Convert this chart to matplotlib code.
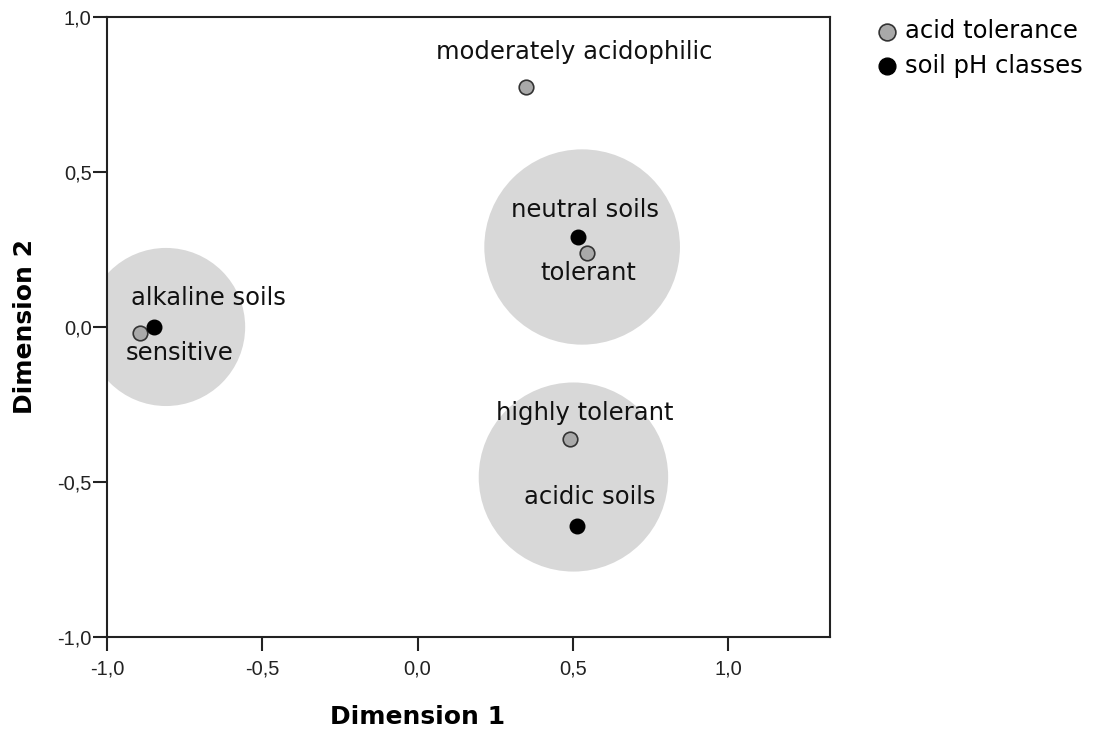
import matplotlib.pyplot as plt
from matplotlib.patches import Ellipse
from matplotlib.ticker import FuncFormatter
from matplotlib.transforms import blended_transform_factory

# acid tolerance categories (grey points)
tol_names = ["moderately acidophilic", "tolerant", "highly tolerant", "sensitive"]
tol_x = [0.35, 0.545, 0.49, -0.895]
tol_y = [0.775, 0.238, -0.36, -0.02]

# soil pH classes (black points)
ph_names = ["neutral soils", "alkaline soils", "acidic soils"]
ph_x = [0.518, -0.848, 0.515]
ph_y = [0.29, 0.0, -0.643]

# shaded groupings
grp_x = [-0.81, 0.53, 0.502]
grp_y = [0.0, 0.258, -0.484]
grp_r = [0.255, 0.315, 0.305]

# label offsets in pixels (dx right, dy up)
tol_off = [(48, 35), (2, -20), (15, 26), (40, -20)]
ph_off = [(7, 27), (54, 29), (12, 29)]

fig = plt.figure(figsize=(11.05, 7.32), dpi=100)
ax = fig.add_axes([0.0968, 0.1298, 0.6543, 0.847])

for cx, cy, r in zip(grp_x, grp_y, grp_r):
    ax.add_patch(Ellipse((cx, cy), 2 * r, 2 * r, facecolor="#d8d8d8",
                         edgecolor="none", zorder=1))

ax.scatter(tol_x, tol_y, s=110, c="#a9a9a9", edgecolors="#333333",
           linewidths=1.2, zorder=3, label="acid tolerance")
ax.scatter(ph_x, ph_y, s=110, c="black", edgecolors="black",
           linewidths=1.0, zorder=3, label="soil pH classes")

px = 0.72  # pixel -> point
for name, x, y, (dx, dy) in zip(tol_names, tol_x, tol_y, tol_off):
    ax.annotate(name, (x, y), xytext=(dx * px, dy * px), textcoords="offset points",
                ha="center", va="center", fontsize=17.5, color="#111111", zorder=4)
for name, x, y, (dx, dy) in zip(ph_names, ph_x, ph_y, ph_off):
    ax.annotate(name, (x, y), xytext=(dx * px, dy * px), textcoords="offset points",
                ha="center", va="center", fontsize=17.5, color="#111111", zorder=4)

ax.set_xlim(-1.0, 1.328)
ax.set_ylim(-1.0, 1.0)
ax.set_xticks([-1.0, -0.5, 0.0, 0.5, 1.0])
ax.set_yticks([-1.0, -0.5, 0.0, 0.5, 1.0])
comma = FuncFormatter(lambda v, p: f"{v:.1f}".replace(".", ","))
ax.xaxis.set_major_formatter(comma)
ax.yaxis.set_major_formatter(comma)
ax.tick_params(direction="out", length=10, width=1.5, labelsize=14.5,
               colors="#222222", labelfontfamily="Liberation Sans")
ax.tick_params(axis="x", pad=6)
ax.tick_params(axis="y", pad=1)
for sp in ax.spines.values():
    sp.set_linewidth(1.5)
    sp.set_color("#222222")

# axis titles, x title centred on zero
tx = blended_transform_factory(ax.transData, ax.transAxes)
ax.text(0.0, -0.129, "Dimension 1", ha="center", va="center", fontsize=18,
        fontweight="bold", transform=tx, clip_on=False)
ax.text(-0.113, 0.5, "Dimension 2", ha="center", va="center", fontsize=18,
        fontweight="bold", rotation=90, transform=ax.transAxes, clip_on=False)

fig.legend(loc="upper left", bbox_to_anchor=(0.776, 0.994), frameon=False,
           fontsize=17.5, handletextpad=0.14, markerscale=1.15, labelspacing=0.44,
           borderaxespad=0.2, handlelength=1.2)

fig.savefig("out.png", dpi=100)
